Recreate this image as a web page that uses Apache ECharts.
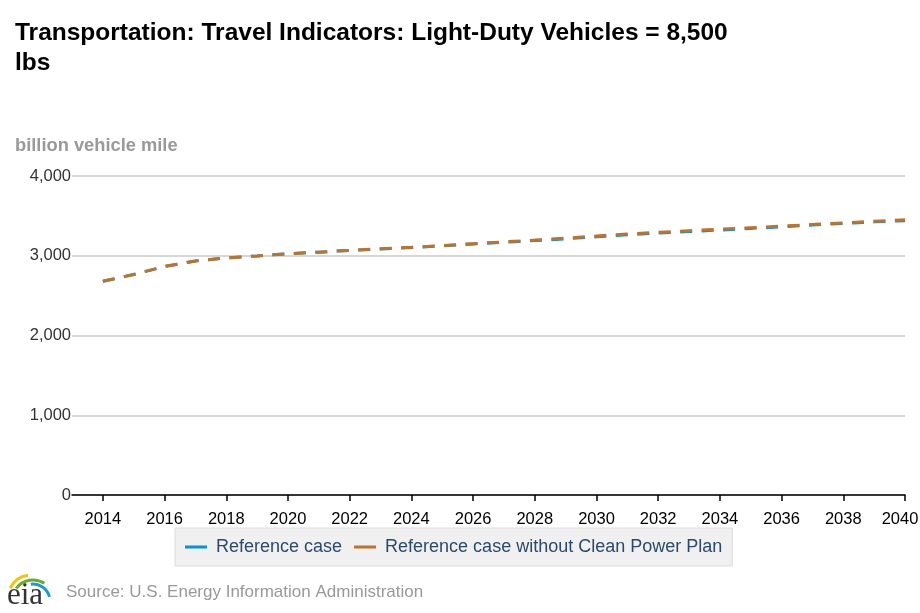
<!DOCTYPE html>
<html>
<head>
<meta charset="utf-8">
<script src="https://cdn.jsdelivr.net/npm/echarts@6/dist/echarts.min.js"></script>
<style>
html,body{margin:0;padding:0;background:#fff;}
#chart{width:920px;height:613px;}
</style>
</head>
<body>
<div id="chart"></div>
<script>
const years = ['2013','2014','2015','2016','2017','2018','2019','2020','2021','2022','2023','2024','2025','2026','2027','2028','2029','2030','2031','2032','2033','2034','2035','2036','2037','2038','2039','2040'];
const referenceCase = [null,2680,2765,2865,2935,2972,2998,3025,3045,3068,3085,3103,3125,3148,3168,3190,3212,3238,3262,3285,3303,3322,3343,3362,3385,3405,3425,3440];
const noCleanPowerPlan = [null,2680,2765,2865,2935,2972,2998,3025,3045,3068,3087,3106,3128,3152,3174,3196,3220,3248,3272,3293,3314,3332,3352,3372,3392,3412,3432,3450];
const yTicks = [0,1000,2000,3000,4000];

const chart = echarts.init(document.getElementById('chart'));
const dash = [12, 9.5];
const FONT = 'Liberation Sans, Arial';
const lastYear = years[years.length - 1];
chart.setOption({
  animation: false,
  backgroundColor: '#ffffff',
  title: {
    text: 'Transportation: Travel Indicators: Light-Duty Vehicles = 8,500\nlbs',
    left: 10, top: 13,
    textStyle: { fontFamily: FONT, fontSize: 24.5, fontWeight: 'bold', color: '#000', lineHeight: 30 }
  },
  grid: { left: 72, right: 15, top: 176, bottom: 118, containLabel: false, outerBoundsMode: 'none' },
  legend: {
    left: 175, top: 528,
    icon: 'rect', itemWidth: 22, itemHeight: 3, itemGap: 12,
    backgroundColor: '#f0f0f0', borderColor: '#dcdcdc', borderWidth: 1,
    padding: [10, 10, 10, 10],
    textStyle: { fontFamily: FONT, fontSize: 18, color: '#2b4a6b', padding: [0, 0, 0, 4] },
    data: ['Reference case', 'Reference case without Clean Power Plan']
  },
  xAxis: {
    type: 'category', data: years, boundaryGap: false,
    axisLine: { lineStyle: { color: '#000', width: 1.5 } },
    axisTick: { show: true, length: 6, lineStyle: { color: '#000', width: 1.5 }, interval: (i, v) => (+v) % 2 === 0 },
    axisLabel: { interval: (i, v) => (+v) % 2 === 0, color: '#000', fontFamily: FONT, fontSize: 16.5, margin: 16,
      formatter: v => v === lastYear ? '{last|' + v + '}' : v,
      rich: { last: { fontFamily: FONT, fontSize: 16.5, color: '#000', padding: [0, 10, 0, 0] } } },
    splitLine: { show: false }
  },
  yAxis: {
    type: 'value', min: 0, max: 4000, interval: 1000,
    name: 'billion vehicle mile', nameLocation: 'end', nameGap: 21,
    nameTextStyle: { align: 'left', padding: [0, 0, 0, -57], fontFamily: FONT, fontSize: 18.3, fontWeight: 'bold', color: '#999' },
    axisLine: { show: false }, axisTick: { show: false },
    axisLabel: { color: '#333', fontFamily: FONT, fontSize: 16.5, margin: 1,
      formatter: v => yTicks.includes(v) ? v.toLocaleString('en-US') : '' },
    splitLine: { lineStyle: { color: '#c8c8c8', width: 1.5 } }
  },
  series: [
    { name: 'Reference case', type: 'line', data: referenceCase, symbol: 'none', smooth: false,
      itemStyle: { color: '#0096d6' }, lineStyle: { color: '#0096d6', width: 3, type: dash } },
    { name: 'Reference case without Clean Power Plan', type: 'line', data: noCleanPowerPlan, symbol: 'none', smooth: false,
      itemStyle: { color: '#bd732a' }, lineStyle: { color: '#bd732a', width: 3, type: dash } }
  ],
  graphic: [
    { type: 'text', left: 66, top: 584, style: { text: 'Source: U.S. Energy Information Administration', fontFamily: FONT, fontSize: 17, fill: '#999' } },
    { type: 'text', left: 7, top: 580, style: { text: 'eia', fontFamily: 'Liberation Serif, Times New Roman', fontSize: 31, fill: '#333' } },
    { type: 'arc', shape: { cx: 31, cy: 598, r: 23, startAngle: -2.7, endAngle: -1.7 }, style: { stroke: '#f5c400', lineWidth: 3, fill: null } },
    { type: 'arc', shape: { cx: 33, cy: 601, r: 21, startAngle: -2.5, endAngle: -1.0 }, style: { stroke: '#6aaa2c', lineWidth: 3, fill: null } },
    { type: 'arc', shape: { cx: 33, cy: 601, r: 17, startAngle: -1.7, endAngle: -0.25 }, style: { stroke: '#1a9bd7', lineWidth: 3, fill: null } }
  ]
});
</script>
</body>
</html>
